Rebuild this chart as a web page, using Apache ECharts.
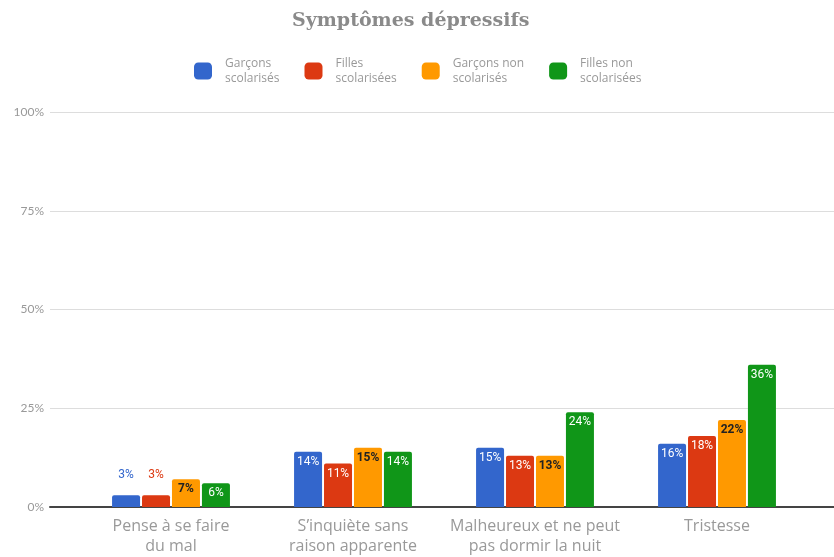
<!DOCTYPE html>
<html>
<head>
<meta charset="utf-8">
<script src="https://cdn.jsdelivr.net/npm/echarts@6/dist/echarts.min.js"></script>
<style>
  html, body { margin: 0; padding: 0; background: #fff; }
  #main { width: 834px; height: 557px; }
</style>
</head>
<body>
<div id="main"></div>
<script>
const categories = ['Pense à se faire\ndu mal', 'S\u2019inquiète sans\nraison apparente', 'Malheureux et ne peut\npas dormir la nuit', 'Tristesse'];
const seriesNames = ['Garçons\nscolarisés', 'Filles\nscolarisées', 'Garçons non\nscolarisés', 'Filles non\nscolarisées'];
const garconsScol = [3, 14, 15, 16];
const fillesScol = [3, 11, 13, 18];
const garconsNonScol = [7, 15, 13, 22];
const fillesNonScol = [6, 14, 24, 36];
const yTicks = [0, 25, 50, 75, 100];

const colors = ['#3366cc', '#dc3912', '#ff9900', '#109618'];
const labelColors = ['#ffffff', '#ffffff', '#222222', '#ffffff'];
const allValues = [garconsScol, fillesScol, garconsNonScol, fillesNonScol];

var chart = echarts.init(document.getElementById('main'));

var series = allValues.map(function (vals, i) {
  return {
    name: seriesNames[i],
    type: 'bar',
    xAxisIndex: 1,
    yAxisIndex: 1,
    barWidth: 28,
    barGap: '7%',
    itemStyle: { color: colors[i], borderRadius: [2, 2, 0, 0] },
    label: {
      show: true,
      position: 'insideTop',
      distance: 4,
      formatter: '{c}%',
      fontFamily: 'Roboto',
      fontSize: 12,
      fontWeight: i === 2 ? 'bold' : 'normal',
      color: labelColors[i]
    },
    data: vals.map(function (v) {
      // small bars: label sits above the bar in the series colour
      if (v < 5) {
        return { value: v, label: { position: 'top', distance: 14, color: colors[i] } };
      }
      return v;
    })
  };
});

var option = {
  backgroundColor: '#ffffff',
  animation: false,
  title: {
    text: 'Symptômes dépressifs',
    left: 287,
    top: 7,
    textStyle: {
      fontFamily: 'DejaVu Serif',
      fontSize: 19,
      fontWeight: 'bold',
      color: '#8a8a8a'
    }
  },
  legend: {
    top: 51,
    left: 189,
    itemWidth: 18,
    itemHeight: 17,
    itemGap: 25,
    icon: 'roundRect',
    textStyle: {
      fontFamily: 'Open Sans',
      fontSize: 12,
      lineHeight: 15,
      color: '#999',
      padding: [0, 0, 0, 8]
    },
    data: seriesNames
  },
  grid: [
    { left: 50, right: 0, top: 112, bottom: 50 },
    { left: 80, right: 26, top: 112, bottom: 50 }
  ],
  xAxis: [
    {
      gridIndex: 0,
      type: 'category',
      data: [''],
      axisLine: { show: true, lineStyle: { color: '#444', width: 2 } },
      axisTick: { show: false },
      axisLabel: { show: false }
    },
    {
      gridIndex: 1,
      type: 'category',
      data: categories,
      axisLine: { show: false },
      axisTick: { show: false },
      axisLabel: {
        interval: 0,
        margin: 9,
        fontFamily: 'Open Sans',
        fontSize: 16,
        lineHeight: 20,
        color: '#999'
      }
    }
  ],
  yAxis: [
    {
      gridIndex: 0,
      type: 'value',
      min: yTicks[0],
      max: yTicks[yTicks.length - 1],
      interval: 25,
      axisLabel: {
        formatter: '{value}%',
        fontFamily: 'Lato',
        fontSize: 12,
        color: '#999',
        margin: 6
      },
      axisLine: { show: false },
      axisTick: { show: false },
      splitLine: { lineStyle: { color: '#dddddd' } }
    },
    {
      gridIndex: 1,
      type: 'value',
      min: 0,
      max: 100,
      interval: 25,
      show: false
    }
  ],
  series: series
};

chart.setOption(option);
</script>
</body>
</html>
